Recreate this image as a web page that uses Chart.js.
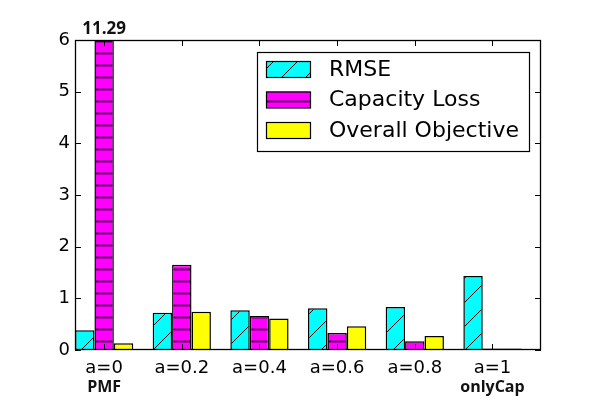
<!DOCTYPE html>
<html>
<head>
<meta charset="utf-8">
<script src="https://cdn.jsdelivr.net/npm/chart.js@4"></script>
<style>
  html, body { margin: 0; padding: 0; background: #fff; }
  #wrap { width: 600px; height: 400px; }
</style>
</head>
<body>
<div id="wrap"><canvas id="chart" width="600" height="400"></canvas></div>
<script>
const labels = ["a=0", "a=0.2", "a=0.4", "a=0.6", "a=0.8", "a=1"];
const subLabels = ["PMF", "", "", "", "", "onlyCap"];
const rmse = [0.38, 0.72, 0.77, 0.81, 0.83, 1.43];
const capacityLoss = [11.29, 1.65, 0.66, 0.33, 0.17, 0.03];
const overall = [0.13, 0.74, 0.61, 0.46, 0.27, 0.03];
const yTicks = [0, 1, 2, 3, 4, 5, 6];
const seriesNames = ["RMSE", "Capacity Loss", "Overall Objective"];

Chart.defaults.font.family = "'DejaVu Sans', sans-serif";
Chart.defaults.color = "#000";

// hatch patterns, like matplotlib's '/' and '-'
function makePattern(bg, size, draw) {
  const c = document.createElement("canvas");
  c.width = size;
  c.height = size;
  const g = c.getContext("2d");
  g.fillStyle = bg;
  g.fillRect(0, 0, size, size);
  draw(g);
  return g.createPattern(c, "repeat");
}

const diagHatch = makePattern("#00ffff", 24, g => {
  g.strokeStyle = "#000";
  g.lineWidth = 1;
  g.beginPath();
  g.moveTo(-2, 25); g.lineTo(25, -2);
  g.moveTo(22, 25); g.lineTo(25, 22);
  g.stroke();
});
const horizHatch = makePattern("#ff00ff", 12, g => {
  g.strokeStyle = "#3a003a";
  g.lineWidth = 1.8;
  g.beginPath();
  g.moveTo(0, 5.5); g.lineTo(12, 5.5);
  g.stroke();
});
const fills = [diagHatch, horizHatch, "#ffff00"];

const toPoints = arr => arr.map((v, i) => ({ x: i, y: v }));

const yMax = yTicks[yTicks.length - 1];

const decor = {
  id: "decor",
  beforeDraw(chart) {
    const ctx = chart.ctx;
    ctx.save();
    ctx.fillStyle = "#fff";
    ctx.fillRect(0, 0, chart.width, chart.height);
    ctx.restore();
  },
  afterDraw(chart) {
    const ctx = chart.ctx;
    const a = chart.chartArea;
    const xs = chart.scales.x;
    const ys = chart.scales.y;
    ctx.save();
    // axes frame
    ctx.strokeStyle = "#000";
    ctx.lineWidth = 1.3;
    ctx.strokeRect(a.left + 0.5, a.top + 0.5, a.right - a.left - 1, a.bottom - a.top - 1);
    // inward ticks
    ctx.lineWidth = 1;
    ctx.beginPath();
    yTicks.forEach(t => {
      const y = Math.round(ys.getPixelForValue(t)) + 0.5;
      ctx.moveTo(a.left, y); ctx.lineTo(a.left + 6, y);
      ctx.moveTo(a.right, y); ctx.lineTo(a.right - 6, y);
    });
    labels.forEach((_, i) => {
      const x = Math.round(xs.getPixelForValue(i)) + 0.5;
      ctx.moveTo(x, a.bottom); ctx.lineTo(x, a.bottom - 6);
      ctx.moveTo(x, a.top); ctx.lineTo(x, a.top + 6);
    });
    ctx.stroke();

    // value of clipped bars
    ctx.font = "bold 17px 'Open Sans'";
    ctx.fillStyle = "#111";
    ctx.textAlign = "center";
    ctx.textBaseline = "alphabetic";
    chart.data.datasets.forEach((ds, di) => {
      const meta = chart.getDatasetMeta(di);
      ds.data.forEach((p, i) => {
        if (p.y > yMax) ctx.fillText(p.y.toFixed(2), meta.data[i].x, a.top - 6);
      });
    });

    // second line under tick labels
    ctx.font = "bold 16px 'Open Sans'";
    ctx.textBaseline = "middle";
    subLabels.forEach((s, i) => {
      if (s) ctx.fillText(s, xs.getPixelForValue(i), 387);
    });

    // legend
    const lx = 257, ly = 52, lw = 272, lh = 99;
    ctx.fillStyle = "#fff";
    ctx.fillRect(lx, ly, lw, lh);
    ctx.lineWidth = 1.2;
    ctx.strokeStyle = "#000";
    ctx.strokeRect(lx + 0.5, ly + 0.5, lw, lh);
    ctx.font = "22px 'DejaVu Sans'";
    ctx.textAlign = "left";
    seriesNames.forEach((name, i) => {
      const cy = 69 + i * 30.5;
      ctx.fillStyle = fills[i];
      ctx.fillRect(266, cy - 8, 44, 16);
      ctx.strokeRect(266.5, cy - 7.5, 44, 16);
      ctx.fillStyle = "#000";
      ctx.fillText(name, 329, cy + 1);
    });
    ctx.restore();
  }
};

new Chart(document.getElementById("chart"), {
  type: "bar",
  data: {
    datasets: [
      { label: seriesNames[0], data: toPoints(rmse), backgroundColor: fills[0] },
      { label: seriesNames[1], data: toPoints(capacityLoss), backgroundColor: fills[1] },
      { label: seriesNames[2], data: toPoints(overall), backgroundColor: fills[2] }
    ].map(d => Object.assign(d, {
      borderColor: "#000",
      borderWidth: 1.5,
      categoryPercentage: 0.75,
      barPercentage: 1.0
    }))
  },
  options: {
    responsive: false,
    animation: false,
    layout: { padding: { top: 40, right: 59, left: 0, bottom: 0 } },
    plugins: { legend: { display: false }, tooltip: { enabled: false } },
    scales: {
      x: {
        type: "linear",
        min: -0.375,
        max: 5.625,
        offset: false,
        grid: { display: false, drawTicks: false },
        border: { display: false },
        afterBuildTicks: s => { s.ticks = labels.map((_, i) => ({ value: i })); },
        afterFit: s => { s.height = 50; },
        ticks: {
          callback: v => labels[v],
          font: { size: 18 },
          color: "#000",
          padding: 8,
          maxRotation: 0,
          autoSkip: false
        }
      },
      y: {
        min: 0,
        max: yMax,
        grid: { display: false, drawTicks: false },
        border: { display: false },
        afterBuildTicks: s => { s.ticks = yTicks.map(v => ({ value: v })); },
        afterFit: s => { s.width = 75; },
        ticks: {
          font: { size: 18 },
          color: "#000",
          padding: 5
        }
      }
    }
  },
  plugins: [decor]
});
</script>
</body>
</html>
